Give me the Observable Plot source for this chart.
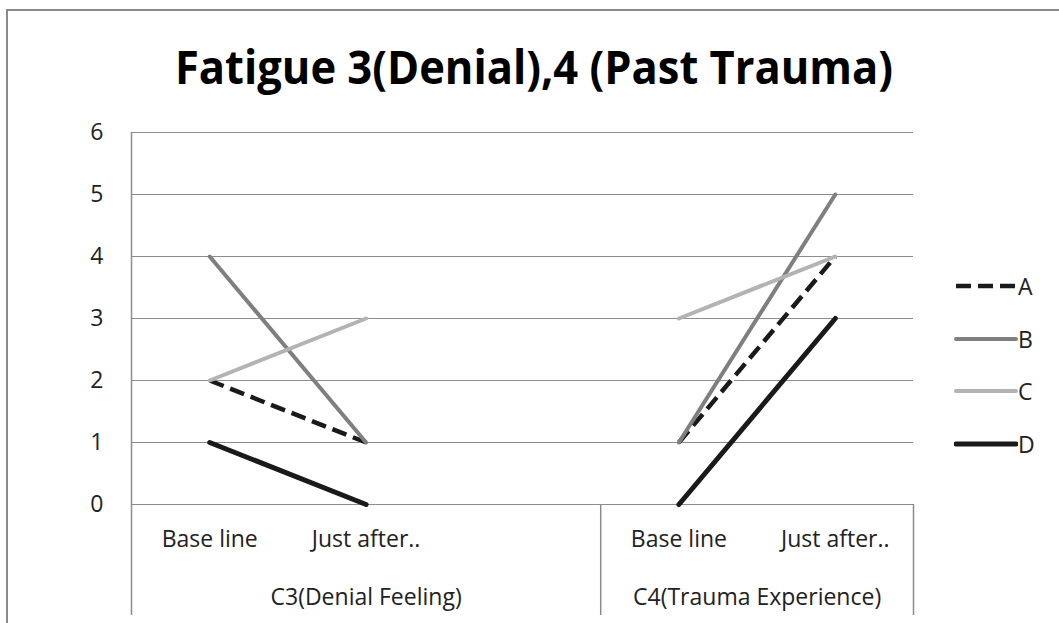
<!DOCTYPE html>
<html>
<head>
<meta charset="utf-8">
<script src="https://cdn.jsdelivr.net/npm/d3@7"></script>
<script src="https://cdn.jsdelivr.net/npm/@observablehq/plot@0.6"></script>
<style>
  html, body { margin: 0; padding: 0; background: #fff; }
  #chart { position: relative; width: 1059px; height: 623px; overflow: hidden; font-family: "Open Sans", sans-serif; }
  #border { position: absolute; left: 6px; top: 9px; width: 1200px; height: 800px; border: 2px solid #8a8a8a; }
  #title { position: absolute; left: 0; top: 0; }
  #plot { position: absolute; left: 0; top: 0; }
  .leg { position: absolute; left: 954px; height: 26px; display: flex; align-items: center; font-size: 23px; color: #222; }
  .leg svg { display: block; }
</style>
</head>
<body>
<div id="chart">
  <div id="border"></div>
  <div id="plot"></div>
  <svg id="title" width="1059" height="110"></svg>
</div>
<script>
// ---- data ----
const titleText = "Fatigue 3(Denial),4 (Past Trauma)";
const groups = ["C3(Denial Feeling)", "C4(Trauma Experience)"];
const groupSlots = [3, 2];               // category slots per group on the axis (C3 has an empty third slot)
const phases = ["Base line", "Just after.."];
const seriesNames = ["A", "B", "C", "D"];
// values[group][phase]
const valuesA = [[2, 1], [1, 4]];
const valuesB = [[4, 1], [1, 5]];
const valuesC = [[2, 3], [3, 4]];
const valuesD = [[1, 0], [0, 3]];
const yTicks = [0, 1, 2, 3, 4, 5, 6];

const seriesValues = {A: valuesA, B: valuesB, C: valuesC, D: valuesD};
const styles = {
  A: {stroke: "#1a1a1a", width: 4.5, dash: "15,7", under: "#ffffff"},
  B: {stroke: "#7f7f7f", width: 4},
  C: {stroke: "#b3b3b3", width: 4},
  D: {stroke: "#1a1a1a", width: 5}
};

// ---- derived table ----
const groupStart = groupSlots.map((_, i) => d3.sum(groupSlots.slice(0, i)));
const totalSlots = d3.sum(groupSlots);
const rows = [];
seriesNames.forEach(s => {
  groups.forEach((g, gi) => {
    phases.forEach((p, pi) => {
      rows.push({series: s, group: g, key: s + "|" + g, pos: groupStart[gi] + pi + 0.5, value: seriesValues[s][gi][pi]});
    });
  });
});
const catLabels = [];
groups.forEach((g, gi) => phases.forEach((p, pi) => catLabels.push({label: p, pos: groupStart[gi] + pi + 0.5})));
const groupLabels = groups.map((g, gi) => ({label: g, pos: groupStart[gi] + groupSlots[gi] / 2}));
const boundaries = groups.map((g, gi) => groupStart[gi] + groupSlots[gi]);

const axisColor = "#8c8c8c";
const marks = [
  Plot.gridY(yTicks, {stroke: axisColor, strokeOpacity: 1, strokeWidth: 1.2}),
  Plot.axisY(yTicks, {tickSize: 0, tickPadding: 28, fontSize: 23, fill: "#222", label: null, tickFormat: d => String(d)}),
  Plot.ruleX([0], {y1: 6, y2: 0, stroke: axisColor, strokeWidth: 1.5, insetBottom: -111}),
  Plot.ruleX(boundaries, {y1: 0, y2: 0, stroke: axisColor, strokeWidth: 1.5, insetBottom: -111}),
  Plot.text(catLabels, {x: "pos", text: "label", frameAnchor: "bottom", dy: 42, fontSize: 23, fill: "#222"}),
  Plot.text(groupLabels, {x: "pos", text: "label", frameAnchor: "bottom", dy: 100, fontSize: 23, fill: "#222"})
];
seriesNames.forEach(s => {
  const st = styles[s];
  const data = rows.filter(r => r.series === s);
  if (st.under) {
    marks.push(Plot.line(data, {x: "pos", y: "value", z: "key", stroke: st.under, strokeWidth: st.width, strokeLinecap: "butt"}));
    marks.push(Plot.line(data, {x: "pos", y: "value", z: "key", stroke: st.stroke, strokeWidth: st.width, strokeDasharray: st.dash, strokeLinecap: "butt"}));
  } else {
    marks.push(Plot.line(data, {x: "pos", y: "value", z: "key", stroke: st.stroke, strokeWidth: st.width, strokeLinecap: "round"}));
  }
});

const chart = Plot.plot({
  width: 1059,
  height: 623,
  marginLeft: 131,
  marginRight: 146,
  marginTop: 132,
  marginBottom: 119,
  x: {domain: [0, totalSlots], axis: null},
  y: {domain: [0, 6], axis: null},
  style: {background: "transparent", fontFamily: "'Open Sans', sans-serif", overflow: "visible"},
  marks
});
document.getElementById("plot").appendChild(chart);

// ---- title ----
const tsvg = d3.select("#title");
tsvg.append("text")
  .attr("x", 534).attr("y", 84)
  .attr("text-anchor", "middle")
  .attr("textLength", 718).attr("lengthAdjust", "spacingAndGlyphs")
  .attr("font-family", "'Open Sans', sans-serif")
  .attr("font-weight", "bold")
  .attr("font-size", 46)
  .attr("fill", "#000")
  .text(titleText);

// ---- legend ----
const chartDiv = document.getElementById("chart");
seriesNames.forEach((s, i) => {
  const st = styles[s];
  const item = document.createElement("div");
  item.className = "leg";
  item.style.top = (286 - 13 + i * 52.7) + "px";
  const ns = "http://www.w3.org/2000/svg";
  const svg = document.createElementNS(ns, "svg");
  svg.setAttribute("width", 64); svg.setAttribute("height", 10);
  const mk = (stroke, dash, cap) => {
    const l = document.createElementNS(ns, "line");
    l.setAttribute("x1", 2); l.setAttribute("x2", 62); l.setAttribute("y1", 5); l.setAttribute("y2", 5);
    l.setAttribute("stroke", stroke); l.setAttribute("stroke-width", st.width);
    l.setAttribute("stroke-linecap", cap);
    if (dash) l.setAttribute("stroke-dasharray", dash);
    svg.appendChild(l);
  };
  if (st.under) { mk(st.under, null, "butt"); mk(st.stroke, st.dash, "butt"); }
  else mk(st.stroke, null, "round");
  item.appendChild(svg);
  const lab = document.createElement("span");
  lab.textContent = s;
  item.appendChild(lab);
  chartDiv.appendChild(item);
});
</script>
</body>
</html>
